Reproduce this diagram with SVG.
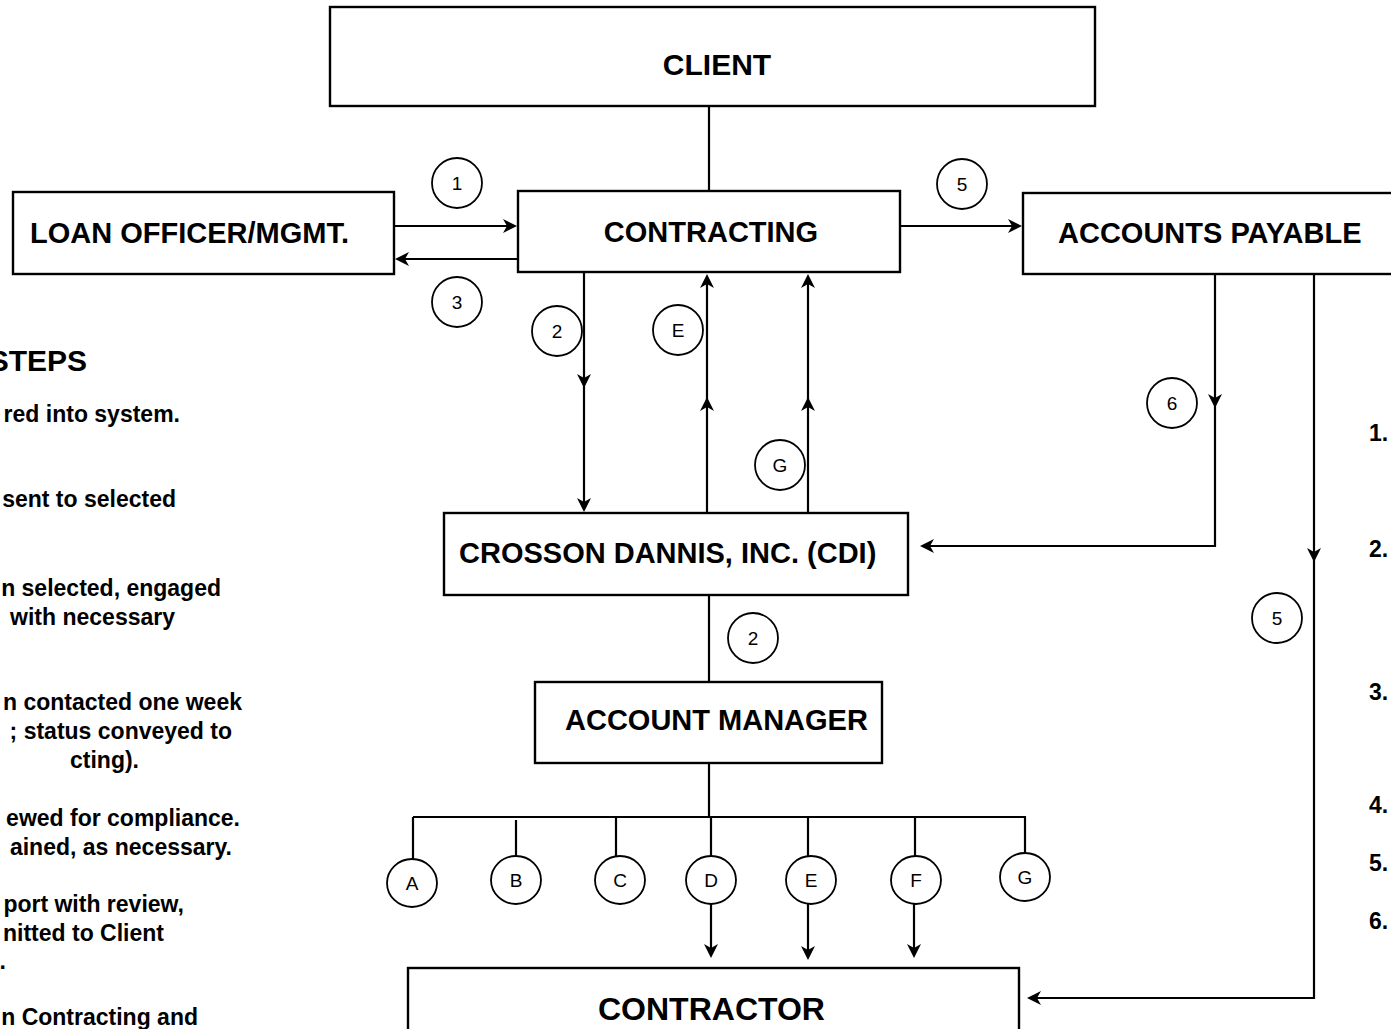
<svg xmlns="http://www.w3.org/2000/svg" xmlns:xlink="http://www.w3.org/1999/xlink" width="1391" height="1029" viewBox="0 0 1391 1029">
<style>
.box{fill:#fff;stroke:#000;stroke-width:2.4}
.ln{fill:none;stroke:#000;stroke-width:2.2}
.cir{fill:#fff;stroke:#000;stroke-width:1.8}
.bt{font-family:"Liberation Sans",Arial,sans-serif;font-weight:bold;font-size:29px;fill:#000}
.ct{font-family:"Liberation Sans",Arial,sans-serif;font-size:19px;fill:#000;text-anchor:middle}
.st{font-family:"Liberation Sans",Arial,sans-serif;font-weight:bold;font-size:23px;fill:#000}
.ah{fill:#000;stroke:none}
</style>
<defs>
<path id="ah" d="M0,0 L-14,-7 L-10,0 L-14,7 Z"/>
</defs>
<rect width="1391" height="1029" fill="#fff"/>

<g id="connectors">
<line class="ln" x1="709" y1="106" x2="709" y2="191"/>
<line class="ln" x1="394" y1="226" x2="512" y2="226"/>
<use href="#ah" class="ah" transform="translate(517,226)"/>
<line class="ln" x1="518" y1="259" x2="400" y2="259"/>
<use href="#ah" class="ah" transform="translate(395,259) rotate(180)"/>
<line class="ln" x1="900" y1="226" x2="1017" y2="226"/>
<use href="#ah" class="ah" transform="translate(1022,226)"/>
<line class="ln" x1="584" y1="272" x2="584" y2="507"/>
<use href="#ah" class="ah" transform="translate(584,388) rotate(90)"/>
<use href="#ah" class="ah" transform="translate(584,512) rotate(90)"/>
<line class="ln" x1="707" y1="513" x2="707" y2="279"/>
<use href="#ah" class="ah" transform="translate(707,397) rotate(-90)"/>
<use href="#ah" class="ah" transform="translate(707,274) rotate(-90)"/>
<line class="ln" x1="808" y1="513" x2="808" y2="279"/>
<use href="#ah" class="ah" transform="translate(808,397) rotate(-90)"/>
<use href="#ah" class="ah" transform="translate(808,274) rotate(-90)"/>
<polyline class="ln" points="1215,274 1215,546 925,546"/>
<use href="#ah" class="ah" transform="translate(1215,408) rotate(90)"/>
<use href="#ah" class="ah" transform="translate(920,546) rotate(180)"/>
<polyline class="ln" points="1314,274 1314,998 1032,998"/>
<use href="#ah" class="ah" transform="translate(1314,562) rotate(90)"/>
<use href="#ah" class="ah" transform="translate(1027,998) rotate(180)"/>
<line class="ln" x1="709" y1="595" x2="709" y2="682"/>
<line class="ln" x1="709" y1="763" x2="709" y2="817"/>
<line class="ln" x1="413" y1="817" x2="1026" y2="817"/>
<line class="ln" x1="413" y1="817" x2="413" y2="859"/>
<line class="ln" x1="516" y1="820" x2="516" y2="856"/>
<line class="ln" x1="616" y1="817" x2="616" y2="856"/>
<line class="ln" x1="711" y1="817" x2="711" y2="856"/>
<line class="ln" x1="808" y1="817" x2="808" y2="856"/>
<line class="ln" x1="915" y1="817" x2="915" y2="856"/>
<line class="ln" x1="1025" y1="817" x2="1025" y2="853"/>
<line class="ln" x1="711" y1="904" x2="711" y2="953"/>
<use href="#ah" class="ah" transform="translate(711,958) rotate(90)"/>
<line class="ln" x1="808" y1="904" x2="808" y2="955"/>
<use href="#ah" class="ah" transform="translate(808,960) rotate(90)"/>
<line class="ln" x1="914" y1="904" x2="914" y2="953"/>
<use href="#ah" class="ah" transform="translate(914,958) rotate(90)"/>
</g>

<g id="client"><rect class="box" x="330" y="7" width="765" height="99"/><text class="bt" x="717" y="75" text-anchor="middle" style="font-size:30px">CLIENT</text></g>
<g id="loan-officer"><rect class="box" x="13" y="192" width="381" height="82"/><text class="bt" x="30" y="243">LOAN OFFICER/MGMT.</text></g>
<g id="contracting"><rect class="box" x="518" y="191" width="382" height="81"/><text class="bt" x="711" y="242" text-anchor="middle">CONTRACTING</text></g>
<g id="accounts-payable"><rect class="box" x="1023" y="193" width="400" height="81"/><text class="bt" x="1058" y="243">ACCOUNTS PAYABLE</text></g>
<g id="cdi"><rect class="box" x="444" y="513" width="464" height="82"/><text class="bt" x="459" y="563">CROSSON DANNIS, INC. (CDI)</text></g>
<g id="account-manager"><rect class="box" x="535" y="682" width="347" height="81"/><text class="bt" x="565" y="730">ACCOUNT MANAGER</text></g>
<g id="contractor"><rect class="box" x="408" y="968" width="611" height="100"/><text class="bt" x="598" y="1020" style="font-size:32px">CONTRACTOR</text></g>

<g id="c1"><circle class="cir" cx="457" cy="183" r="25"/><text class="ct" x="457" y="190">1</text></g>
<g id="c3"><circle class="cir" cx="457" cy="302" r="25"/><text class="ct" x="457" y="309">3</text></g>
<g id="c5a"><circle class="cir" cx="962" cy="184" r="25"/><text class="ct" x="962" y="191">5</text></g>
<g id="c2a"><circle class="cir" cx="557" cy="331" r="25"/><text class="ct" x="557" y="338">2</text></g>
<g id="cEa"><circle class="cir" cx="678" cy="330" r="25"/><text class="ct" x="678" y="337">E</text></g>
<g id="cGa"><circle class="cir" cx="780" cy="465" r="25"/><text class="ct" x="780" y="472">G</text></g>
<g id="c6"><circle class="cir" cx="1172" cy="403" r="25"/><text class="ct" x="1172" y="410">6</text></g>
<g id="c5b"><circle class="cir" cx="1277" cy="618" r="25"/><text class="ct" x="1277" y="625">5</text></g>
<g id="c2b"><circle class="cir" cx="753" cy="638" r="25"/><text class="ct" x="753" y="645">2</text></g>
<g id="cA"><ellipse class="cir" cx="412" cy="883" rx="25" ry="24"/><text class="ct" x="412" y="890">A</text></g>
<g id="cB"><ellipse class="cir" cx="516" cy="880" rx="25" ry="24"/><text class="ct" x="516" y="887">B</text></g>
<g id="cC"><ellipse class="cir" cx="620" cy="880" rx="25" ry="24"/><text class="ct" x="620" y="887">C</text></g>
<g id="cD"><ellipse class="cir" cx="711" cy="880" rx="25" ry="24"/><text class="ct" x="711" y="887">D</text></g>
<g id="cE"><ellipse class="cir" cx="811" cy="880" rx="25" ry="24"/><text class="ct" x="811" y="887">E</text></g>
<g id="cF"><ellipse class="cir" cx="916" cy="880" rx="25" ry="24"/><text class="ct" x="916" y="887">F</text></g>
<g id="cG"><ellipse class="cir" cx="1025" cy="877" rx="25" ry="24"/><text class="ct" x="1025" y="884">G</text></g>

<g id="steps-left" text-anchor="end">
<text class="st" x="87" y="371" style="font-size:30px">STEPS</text>
<text class="st" x="180" y="422">red into system.</text>
<text class="st" x="176" y="507">sent to selected</text>
<text class="st" x="221" y="596">n selected, engaged</text>
<text class="st" x="175" y="625">with necessary</text>
<text class="st" x="242" y="710">n contacted one week</text>
<text class="st" x="232" y="739">; status conveyed to</text>
<text class="st" x="139" y="768">cting).</text>
<text class="st" x="240" y="826">ewed for compliance.</text>
<text class="st" x="232" y="855">ained, as necessary.</text>
<text class="st" x="184" y="912">port with review,</text>
<text class="st" x="164" y="941">nitted to Client</text>
<text class="st" x="6" y="969">.</text>
<text class="st" x="198" y="1025">n Contracting and</text>
</g>
<g id="steps-right">
<text class="st" x="1369" y="441">1.</text>
<text class="st" x="1369" y="557">2.</text>
<text class="st" x="1369" y="700">3.</text>
<text class="st" x="1369" y="813">4.</text>
<text class="st" x="1369" y="871">5.</text>
<text class="st" x="1369" y="929">6.</text>
</g>
</svg>
